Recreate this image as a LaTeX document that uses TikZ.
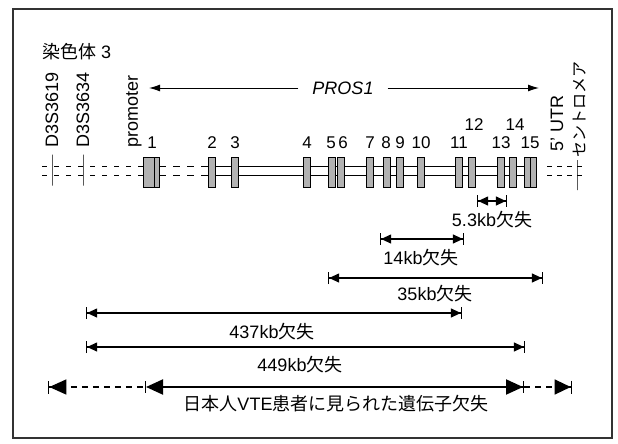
\documentclass[tikz,border=0pt]{standalone}
\usepackage{fontspec}
\setmainfont{Liberation Sans}
\newfontfamily\jp{Noto Sans CJK JP}
\usetikzlibrary{arrows.meta,backgrounds}
\begin{document}
\begin{tikzpicture}[x=1pt,y=-1pt,
  lbl/.style={inner sep=0pt, font=\fontsize{18}{21}\selectfont},
  num/.style={inner sep=0pt, font=\fontsize{17}{20}\selectfont},
  exon/.style={draw=black, line width=0.8pt, fill=gray!60, minimum width=6.5pt, minimum height=30pt, inner sep=0pt, outer sep=0pt},
  tickmark/.style={draw, line width=1pt, minimum width=0pt, minimum height=31pt, inner sep=0pt, outer sep=0pt},
  gline/.style={line width=1pt},
  dline/.style={line width=1pt, dash pattern=on 5pt off 7pt},
  dimarrow/.style={line width=1.1pt, {Bar[width=12pt]Triangle[length=10pt,width=9pt]}-{Triangle[length=10pt,width=9pt]Bar[width=12pt]}},
]
\useasboundingbox (0,0) rectangle (618,444);
\draw[line width=1.1pt, black!80] (13,9) rectangle (612,438);

% title
\node[lbl, anchor=west] (chr) at (42,52) {{\jp 染色体} 3};

% rotated labels
\node[lbl, rotate=90, anchor=west] (d1) at (52,148) {D3S3619};
\node[lbl, rotate=90, anchor=west] (d2) at (83,148) {D3S3634};
\node[lbl, rotate=90, anchor=west] (prom) at (134,148) {promoter};
\node[lbl, rotate=90, anchor=west] (utr) at (557,152) {5' UTR};
\node[lbl, font=\fontsize{16}{20}\selectfont, rotate=90, anchor=west] (cen) at (580,158) {\jp セントロメア};

% PROS1
\node[lbl, font=\fontsize{18}{21}\selectfont\itshape, inner xsep=14pt] (pros) at (343,88) {PROS1};
\coordinate (pl) at (149,88);
\coordinate (pr) at (539,88);
\draw[line width=1pt, -{Latex[length=11pt,width=7pt]}] (pros.west) -- (pl);
\draw[line width=1pt, -{Latex[length=11pt,width=7pt]}] (pros.east) -- (pr);

% exons
\node[exon, minimum width=16pt] (e1) at (151,172) {};
\node[exon] (e2) at (212,172) {};
\node[exon] (e3) at (235,172) {};
\node[exon] (e4) at (307,172) {};
\node[exon] (e5) at (332,172) {};
\node[exon] (e6) at (341,172) {};
\node[exon] (e7) at (370,172) {};
\node[exon] (e8) at (387,172) {};
\node[exon] (e9) at (400,172) {};
\node[exon] (e10) at (421,172) {};
\node[exon] (e11) at (459,172) {};
\node[exon] (e12) at (472,172) {};
\node[exon] (e13) at (501,172) {};
\node[exon] (e14) at (513,172) {};
\node[exon, minimum width=12pt] (e15) at (530,172) {};
\draw[line width=0.8pt] ([xshift=3pt]e1.north) -- ([xshift=3pt]e1.south);
\draw[line width=0.8pt] (e15.north) -- (e15.south);

% markers
\node[tickmark] (m1) at (52,170) {};
\node[tickmark] (m2) at (83,170) {};
\node[tickmark, minimum height=30pt] (m3) at (577,175) {};
\coordinate (up) at (0,166);
\coordinate (lo) at (0,175);
\coordinate (lend) at (42,170);
\coordinate (rbeg) at (547,170);
\coordinate (rend) at (583,170);

\begin{scope}[on background layer]
  \draw[dline] (lend |- up) -- (e1.west |- up);
  \draw[dline] (lend |- lo) -- (e1.west |- lo);
  \draw[gline, dash pattern=on 7pt off 7pt] (e1.east |- up) -- (e2.west |- up);
  \draw[gline, dash pattern=on 7pt off 7pt] (e1.east |- lo) -- (e2.west |- lo);
  \draw[gline] (e2 |- up) -- (e15 |- up);
  \draw[gline] (e2 |- lo) -- (e15 |- lo);
  \draw[gline, dash pattern=on 5pt off 5pt] (rbeg |- up) -- (rend |- up);
  \draw[gline, dash pattern=on 5pt off 5pt] (rbeg |- lo) -- (rend |- lo);
\end{scope}

% exon numbers
\node[num] (n1) at (152,143) {1};
\node[num] (n2) at (212,143) {2};
\node[num] (n3) at (235,143) {3};
\node[num] (n4) at (307,143) {4};
\node[num] (n5) at (331,143) {5};
\node[num] (n6) at (343,143) {6};
\node[num] (n7) at (370,143) {7};
\node[num] (n8) at (386,143) {8};
\node[num] (n9) at (400,143) {9};
\node[num] (n10) at (421,143) {10};
\node[num] (n11) at (459,143) {11};
\node[num] (n12) at (474,125) {12};
\node[num] (n13) at (501,143) {13};
\node[num] (n14) at (515,125) {14};
\node[num] (n15) at (530,143) {15};

% deletions
\coordinate (a1) at (477,201); \coordinate (a2) at (507,201);
\draw[dimarrow] (a1) -- (a2);
\node[lbl] (t1) at (492,220) {5.3kb{\jp 欠失}};

\coordinate (b1) at (380,239); \coordinate (b2) at (464,239);
\draw[dimarrow] (b1) -- (b2);
\node[lbl] (t2) at (421,258) {14kb{\jp 欠失}};

\coordinate (c1) at (328,278); \coordinate (c2) at (543,278);
\draw[dimarrow] (c1) -- (c2);
\node[lbl] (t3) at (435,294) {35kb{\jp 欠失}};

\coordinate (d1a) at (86,313); \coordinate (d2a) at (462,313);
\draw[dimarrow] (d1a) -- (d2a);
\node[lbl] (t4) at (272,332) {437kb{\jp 欠失}};

\coordinate (f1) at (86,347); \coordinate (f2) at (525,347);
\draw[dimarrow] (f1) -- (f2);
\node[lbl] (t5) at (300,365) {449kb{\jp 欠失}};

% Japanese VTE
\coordinate (g0) at (48,387); \coordinate (g1) at (146,387);
\coordinate (g2) at (524,387); \coordinate (g3) at (572,387);
\draw[line width=1.3pt, dash pattern=on 6pt off 5pt, {Bar[width=13pt]Triangle[length=17pt,width=15pt]}-{Bar[width=12pt]}] (g0) -- (g1);
\draw[line width=2pt, {Triangle[length=17pt,width=15pt]}-{Triangle[length=17pt,width=15pt]Bar[width=12pt,line width=1pt]}] (g1) -- (g2);
\draw[line width=1.3pt, dash pattern=on 6pt off 5pt, -{Triangle[length=16pt,width=15pt]Bar[width=13pt]}] (g2) -- (g3);
\node[lbl] (t6) at (336,404) {{\jp 日本人}VTE{\jp 患者に見られた遺伝子欠失}};
\end{tikzpicture}
\end{document}
